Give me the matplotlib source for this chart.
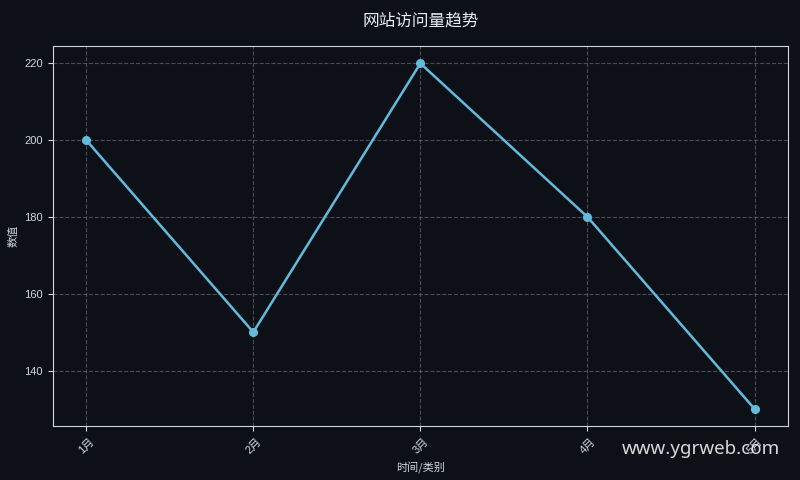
import matplotlib
matplotlib.use("Agg")
import matplotlib.pyplot as plt

plt.rcParams['font.family'] = ['Liberation Sans', 'Noto Sans CJK SC', 'DejaVu Sans']
plt.rcParams['axes.unicode_minus'] = False

# 数据
categories = ['1月', '2月', '3月', '4月', '5月']
values = [200, 150, 220, 180, 130]

bg = '#0d1117'
fg = '#d0d7de'
line_color = '#62bbdd'

fig, ax = plt.subplots(figsize=(8, 4.8), dpi=100)
fig.patch.set_facecolor(bg)
ax.set_facecolor(bg)

ax.plot(categories, values, color=line_color, linewidth=1.8, marker='o', markersize=5.5)

ax.set_title('网站访问量趋势', color='#e6edf3', fontsize=12, pad=15,
             family=['Noto Sans CJK SC', 'DejaVu Sans'])
ax.set_xlabel('时间/类别', color=fg, fontsize=8, family=['Noto Sans CJK SC', 'DejaVu Sans'])
ax.set_ylabel('数值', color=fg, fontsize=8, family=['Noto Sans CJK SC', 'DejaVu Sans'])

ax.grid(True, linestyle='--', color='#888888', alpha=0.5, linewidth=0.8)
for s in ax.spines.values():
    s.set_color(fg)
ax.tick_params(colors=fg, labelsize=8)
plt.setp(ax.get_xticklabels(), rotation=45)

fig.subplots_adjust(left=0.066, right=0.985, top=0.904, bottom=0.112)

fig.text(0.975, 0.045, 'www.ygrweb.com', color='#eeeeee', alpha=0.9, fontsize=13.5,
         ha='right', va='bottom', family=['Noto Sans', 'DejaVu Sans'])

fig.savefig('out.png', facecolor=bg)
